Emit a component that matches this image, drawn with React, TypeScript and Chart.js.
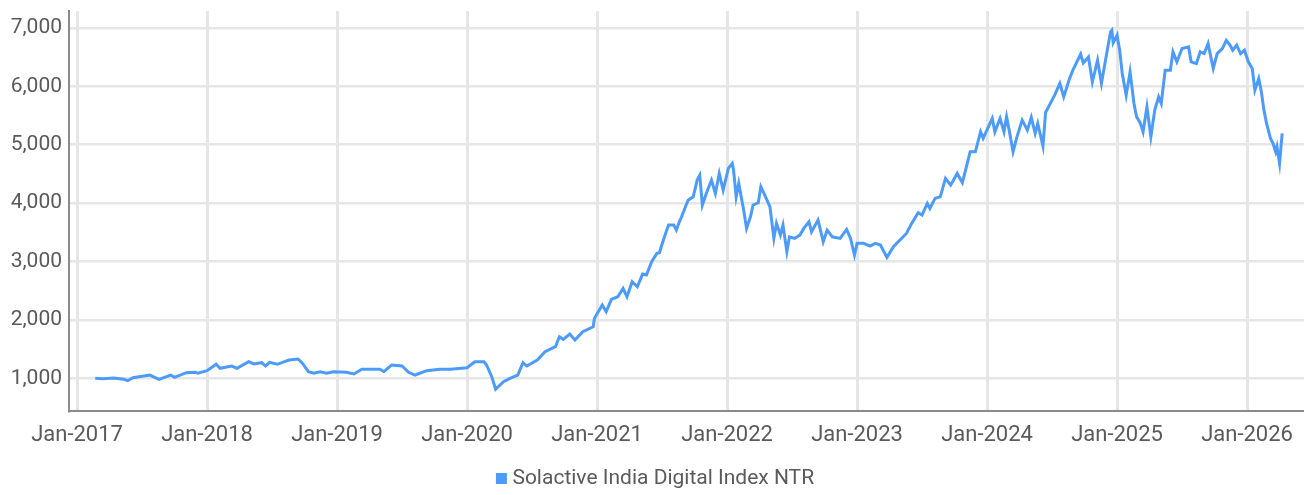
import React, { useEffect, useRef } from "react";
import { Chart, registerables } from "chart.js";

Chart.register(...registerables);

const dates: number[] = [
  2017.14, 2017.2, 2017.28, 2017.36, 2017.39, 2017.43, 2017.56, 2017.63, 2017.72, 2017.75,
  2017.84, 2017.91, 2017.93, 2018.0, 2018.07, 2018.1, 2018.19, 2018.23, 2018.32, 2018.36,
  2018.42, 2018.45, 2018.48, 2018.54, 2018.63, 2018.7, 2018.73, 2018.78, 2018.82, 2018.87,
  2018.92, 2018.97, 2019.07, 2019.13, 2019.19, 2019.33, 2019.36, 2019.42, 2019.5, 2019.55,
  2019.6, 2019.69, 2019.79, 2019.87, 2020.0, 2020.06, 2020.13, 2020.15, 2020.19, 2020.22,
  2020.28, 2020.33, 2020.39, 2020.43, 2020.46, 2020.54, 2020.6, 2020.68, 2020.71, 2020.74,
  2020.79, 2020.83, 2020.89, 2020.97, 2020.98, 2021.04, 2021.07, 2021.11, 2021.16, 2021.2,
  2021.23, 2021.27, 2021.31, 2021.35, 2021.38, 2021.42, 2021.46, 2021.48, 2021.51, 2021.55,
  2021.59, 2021.61, 2021.63, 2021.65, 2021.7, 2021.74, 2021.77, 2021.79, 2021.81, 2021.84,
  2021.88, 2021.91, 2021.94, 2021.97, 2022.01, 2022.04, 2022.05, 2022.07, 2022.09, 2022.13,
  2022.15, 2022.18, 2022.2, 2022.24, 2022.26, 2022.29, 2022.33, 2022.36, 2022.38, 2022.41,
  2022.43, 2022.46, 2022.48, 2022.52, 2022.56, 2022.59, 2022.63, 2022.65, 2022.7, 2022.74,
  2022.77, 2022.81, 2022.87, 2022.92, 2022.95, 2022.98, 2023.0, 2023.05, 2023.1, 2023.14,
  2023.18, 2023.23, 2023.28, 2023.33, 2023.38, 2023.42, 2023.47, 2023.5, 2023.54, 2023.56,
  2023.6, 2023.64, 2023.68, 2023.72, 2023.77, 2023.81, 2023.87, 2023.91, 2023.95, 2023.97,
  2024.04, 2024.06, 2024.1, 2024.13, 2024.15, 2024.17, 2024.2, 2024.23, 2024.27, 2024.31,
  2024.34, 2024.37, 2024.39, 2024.43, 2024.45, 2024.48, 2024.52, 2024.56, 2024.59, 2024.63,
  2024.66, 2024.72, 2024.74, 2024.78, 2024.81, 2024.85, 2024.88, 2024.92, 2024.95, 2024.96,
  2024.97, 2025.0, 2025.02, 2025.04, 2025.07, 2025.1, 2025.13, 2025.15, 2025.18, 2025.2,
  2025.23, 2025.26, 2025.29, 2025.32, 2025.34, 2025.37, 2025.41, 2025.43, 2025.46, 2025.5,
  2025.55, 2025.57, 2025.61, 2025.64, 2025.67, 2025.7, 2025.74, 2025.77, 2025.81, 2025.84,
  2025.87, 2025.89, 2025.92, 2025.95, 2025.98, 2026.01, 2026.04, 2026.06, 2026.09, 2026.11,
  2026.13, 2026.15, 2026.18, 2026.2, 2026.22, 2026.23, 2026.25, 2026.26, 2026.27,
];

const values: number[] = [
  1000, 992, 1005, 983, 959, 1010, 1056, 983, 1056, 1017,
  1096, 1103, 1086, 1130, 1240, 1171, 1210, 1171, 1284, 1245,
  1267, 1210, 1274, 1240, 1313, 1330, 1267, 1113, 1086, 1113,
  1086, 1113, 1103, 1074, 1154, 1154, 1113, 1228, 1210, 1103,
  1056, 1130, 1154, 1154, 1181, 1284, 1284, 1228, 1027, 812,
  942, 1000, 1056, 1267, 1210, 1313, 1455, 1541, 1712, 1667,
  1758, 1656, 1798, 1883, 2027, 2254, 2140, 2352, 2397, 2540,
  2397, 2653, 2568, 2785, 2768, 2996, 3139, 3150, 3367, 3624,
  3624, 3538, 3663, 3766, 4051, 4108, 4394, 4479, 3966, 4166,
  4394, 4166, 4508, 4223, 4594, 4680, 4565, 4108, 4337, 3852,
  3567, 3766, 3966, 4006, 4279, 4137, 3937, 3396, 3653, 3453,
  3624, 3167, 3423, 3396, 3453, 3567, 3680, 3509, 3709, 3338,
  3538, 3423, 3396, 3550, 3396, 3110, 3311, 3311, 3264, 3311,
  3281, 3071, 3252, 3367, 3481, 3653, 3834, 3795, 3995, 3909,
  4081, 4108, 4423, 4308, 4508, 4348, 4879, 4879, 5221, 5108,
  5450, 5221, 5450, 5221, 5478, 5250, 4879, 5135, 5421, 5250,
  5467, 5193, 5364, 4976, 5552, 5678, 5849, 6049, 5820, 6105,
  6276, 6550, 6401, 6504, 6076, 6447, 6049, 6561, 6932, 6960,
  6744, 6875, 6619, 6220, 5849, 6248, 5707, 5478, 5364, 5221,
  5649, 5135, 5592, 5820, 5707, 6276, 6276, 6590, 6419, 6647,
  6675, 6419, 6390, 6590, 6561, 6732, 6305, 6561, 6647, 6789,
  6704, 6619, 6704, 6561, 6619, 6419, 6305, 5935, 6134, 5906,
  5592, 5364, 5108, 5022, 4879, 4965, 4679, 4936, 5193,
];

const seriesName = "Solactive India Digital Index NTR";
const yTickValues: number[] = [1000, 2000, 3000, 4000, 5000, 6000, 7000];
const xTickYears: number[] = [2017, 2018, 2019, 2020, 2021, 2022, 2023, 2024, 2025, 2026];

const FONT = "Roboto, 'Liberation Sans', sans-serif";
const LINE_COLOR = "#4d9bf8";
const TEXT_COLOR = "#5a5a5a";
const GRID_COLOR = "#e6e6e6";
const AXIS_COLOR = "#8a8a8a";

export default function App() {
  const canvasRef = useRef<HTMLCanvasElement | null>(null);

  useEffect(() => {
    const canvas = canvasRef.current;
    if (!canvas) return;
    const points = dates.map((d, i) => ({ x: d, y: values[i] }));
    const chart = new Chart(canvas, {
      type: "line",
      data: {
        datasets: [
          {
            label: seriesName,
            data: points,
            borderColor: LINE_COLOR,
            backgroundColor: LINE_COLOR,
            borderWidth: 3,
            pointRadius: 0,
            tension: 0,
            fill: false,
          },
        ],
      },
      options: {
        animation: false,
        responsive: false,
        maintainAspectRatio: false,
        layout: { padding: { top: 11, left: 11, right: 0, bottom: -4 } },
        plugins: {
          tooltip: { enabled: false },
          legend: {
            position: "bottom",
            labels: {
              usePointStyle: true,
              pointStyle: "rect",
              boxWidth: 1,
              boxHeight: 11,
              padding: 18,
              color: TEXT_COLOR,
              font: { family: FONT, size: 21 },
              generateLabels: (c: any) =>
                Chart.defaults.plugins.legend.labels
                  .generateLabels(c)
                  .map((l: any) => ({ ...l, lineWidth: 0, strokeStyle: LINE_COLOR })),
            },
          },
        },
        scales: {
          x: {
            type: "linear",
            min: 2016.938,
            max: 2026.438,
            afterBuildTicks: (axis: any) => {
              axis.ticks = xTickYears.map((v) => ({ value: v }));
            },
            afterFit: (axis: any) => {
              axis.height = 39;
              axis.paddingLeft = 0;
              axis.paddingRight = 0;
            },
            ticks: {
              padding: 11,
              color: TEXT_COLOR,
              font: { family: FONT, size: 22 },
              maxRotation: 0,
              autoSkip: false,
              callback: (v: any) => "Jan-" + v,
            },
            grid: { color: GRID_COLOR, lineWidth: 3, drawTicks: false },
            border: { display: true, color: AXIS_COLOR, width: 2 },
          },
          y: {
            type: "linear",
            min: 440,
            max: 7290,
            afterBuildTicks: (axis: any) => {
              axis.ticks = yTickValues.map((v) => ({ value: v }));
            },
            afterFit: (axis: any) => {
              axis.width = 58;
              axis.paddingTop = 0;
              axis.paddingBottom = 0;
            },
            ticks: {
              padding: 7,
              color: TEXT_COLOR,
              font: { family: FONT, size: 21 },
              callback: (v: any) => Number(v).toLocaleString("en-US"),
            },
            grid: { color: GRID_COLOR, lineWidth: 2.5, drawTicks: false },
            border: { display: true, color: AXIS_COLOR, width: 2 },
          },
        },
      },
    } as any);
    return () => chart.destroy();
  }, []);

  return (
    <div style={{ position: "fixed", left: 0, top: 0, width: 1304, height: 495, background: "#fff" }}>
      <canvas ref={canvasRef} width={1304} height={495} style={{ display: "block" }} />
    </div>
  );
}
